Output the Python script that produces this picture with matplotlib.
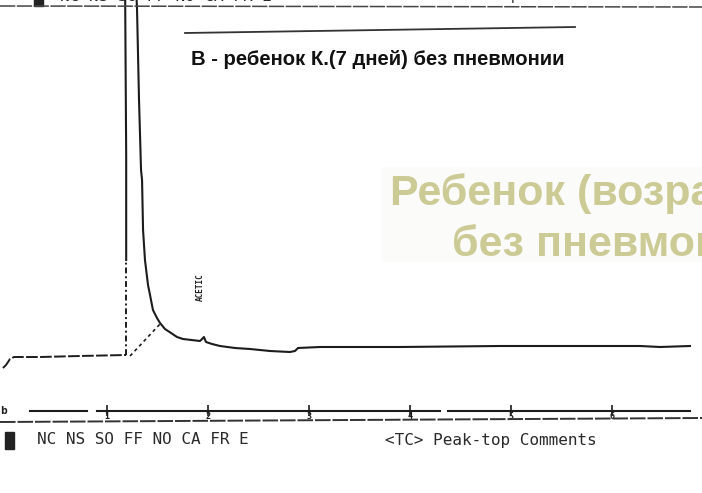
import numpy as np
import matplotlib.pyplot as plt
from matplotlib.patches import Rectangle

W, H = 702, 493
ink = '#1c1c1c'

# retention time scale of the printout (min) and signal (arb. units)
PX0, PXMIN = 6.0, 101.0   # x pixel of t=0, pixels per minute
BASE = 356.0              # pixel row of zero signal

# pre-injection baseline
pre_t = [-0.03, 0.0, 0.04, 0.08, 0.34, 0.73, 1.19]
pre_s = [-12, -9, -3, -1, -1, 0, 1]

# solvent peak (off scale) and tail
peak_t = [1.19, 1.19, 1.18, 1.18, 1.287, 1.297, 1.317, 1.337, 1.347, 1.357, 1.376, 1.406,
          1.426, 1.455, 1.495, 1.525, 1.574, 1.634, 1.693, 1.752, 1.921, 1.941, 1.96,
          1.98, 2.04, 2.119, 2.267, 2.416, 2.614, 2.812, 2.861, 2.891, 3.109, 3.901,
          4.891, 5.881, 6.277, 6.475, 6.772]
peak_s = [96, 200, 356, 370, 370, 348, 256, 186, 176, 126, 96, 71, 61, 46, 38, 33, 27,
          23, 19, 17, 15, 17, 19, 14, 12, 10, 8, 7, 5, 4, 5, 8, 9, 9, 10, 10, 10, 9, 10]

# integration marks
drop_t, drop_s = [1.19, 1.19], [1, 96]
base_t, base_s = [1.228, 1.525], [0, 32]

# acetic acid label
acetic_t, acetic_s = 1.92, 55

# printed time axis
tick_t = [1, 2, 3, 4, 5, 6]
tick_lbl = ['1', '2', '3', '4', '5', '6']
axis_segs = [(0.24, 0.8), (0.9, 4.3), (4.38, 6.77)]
AXIS_S = -55

fig = plt.figure(figsize=(W / 100, H / 100), dpi=100)
fig.patch.set_facecolor('white')
ax = fig.add_axes([0, 0, 1, 1])
ax.set_xlim(-PX0 / PXMIN, (W - PX0) / PXMIN)
ax.set_ylim(BASE - H, BASE)
ax.axis('off')


def fx(x):
    return x / W


def fy(y):
    return 1 - y / H


# trace
ax.plot(pre_t, pre_s, color=ink, lw=1.4, ls=(0, (6, 1.2)))
ax.plot(peak_t, peak_s, color=ink, lw=1.5)
ax.plot(drop_t, drop_s, color=ink, lw=1.4, ls=(0, (3, 1.5, 1, 1.5)))
ax.plot(base_t, base_s, color=ink, lw=1.2, ls=(0, (2, 2)))
ax.text(acetic_t, acetic_s, 'ACETIC', rotation=90, ha='center', va='bottom',
        fontsize=5.5, family='DejaVu Sans Mono', fontweight='bold', color=ink)

# time axis
for a, b in axis_segs:
    ax.plot([a, b], [AXIS_S, AXIS_S], color=ink, lw=1.5)
ax.vlines(tick_t, AXIS_S - 5, AXIS_S + 6, color=ink, lw=1.2)
for t, lbl in zip(tick_t, tick_lbl):
    ax.text(t, AXIS_S - 1, lbl, ha='center', va='top', fontsize=6, color=ink,
            family='DejaVu Sans Mono', fontweight='bold')
ax.text(-0.02, AXIS_S, 'b', ha='center', va='center', fontsize=8, color=ink,
        family='DejaVu Sans Mono', fontweight='bold')

# rules
fig.add_artist(plt.Line2D([0, 1], [fy(422), fy(418)], color='#333333', lw=1.4,
                          ls=(0, (8, 1))))
fig.add_artist(plt.Line2D([0, 1], [fy(6), fy(7)], color='#444444', lw=1.1,
                          ls=(0, (10, 1))))
fig.add_artist(plt.Line2D([fx(185), fx(575)], [fy(33), fy(27)], color='#333333',
                          lw=1.3))

# printer footer lines (bottom and clipped one at top)
for bx, lx, rx, yy in ((5, 37, 385, 440), (34, 60, 415, -3.5)):
    fig.add_artist(Rectangle((fx(bx), fy(yy + 9)), 9 / W, 17 / H,
                             transform=fig.transFigure, color='#222222'))
    fig.text(fx(lx), fy(yy), 'NC NS SO FF NO CA FR E', ha='left', va='center',
             fontsize=11.5, family='DejaVu Sans Mono', color='#2a2a2a')
    fig.text(fx(rx), fy(yy), '<TC> Peak-top Comments', ha='left', va='center',
             fontsize=11.5 if yy > 0 else 9.5, family='DejaVu Sans Mono',
             color='#2a2a2a')

# caption
fig.text(fx(191), fy(65), 'В - ребенок К.(7 дней) без пневмонии', ha='left',
         va='baseline', fontsize=14.6, family='Liberation Sans', fontweight='bold',
         color='#111111')

# overlay note
fig.add_artist(Rectangle((fx(382), fy(261)), (W - 382) / W, 94 / H,
                         transform=fig.transFigure, color='#fbfbfa', zorder=5))
fig.text(fx(390), fy(205), 'Ребенок (возраст 7 дней)', ha='left', va='baseline',
         fontsize=31, family='Liberation Sans', fontweight='bold', color='#cccb96',
         zorder=6)
fig.text(fx(452), fy(256), 'без пневмонии', ha='left', va='baseline',
         fontsize=31, family='Liberation Sans', fontweight='bold', color='#cccb96',
         zorder=6)

fig.savefig('out.png', dpi=100)
